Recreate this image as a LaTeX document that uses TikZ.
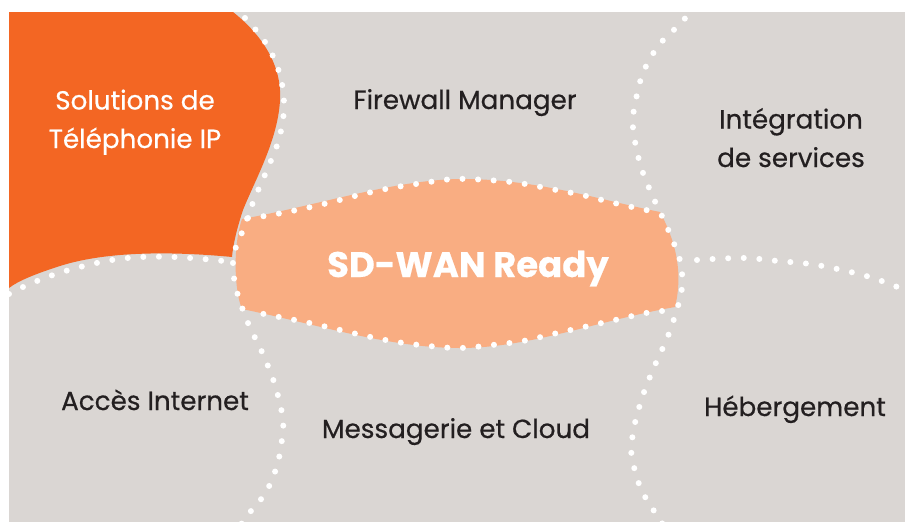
\documentclass[tikz,border=0pt]{standalone}
\usepackage{fontspec}
\setmainfont{Poppins}[FakeBold=0.5]
\definecolor{bggrey}{RGB}{218,214,211}
\definecolor{deeporange}{RGB}{243,102,35}
\definecolor{lightorange}{RGB}{249,173,130}
\definecolor{textdark}{RGB}{35,31,32}
\begin{document}
\begin{tikzpicture}[x=1pt,y=-1pt,
  dotline/.style={white, line width=6pt, line cap=round, dash pattern=on 0pt off 15.6pt},
  lbl/.style={text=textdark, font=\fontsize{26.2}{38.5}\selectfont, align=center, anchor=base, inner sep=0pt},
  wlbl/.style={lbl, text=white}]
\useasboundingbox (0,0) rectangle (905,522);
\fill[white] (0,0) rectangle (905,522);
\fill[bggrey] (9,12) rectangle (905,522);
\begin{scope}
\clip (9,12) rectangle (905,522);
% orange region
\fill[deeporange] (9,12) -- (233,12)
  .. controls (262,35) and (282,65) .. (280,100)
  .. controls (278,140) and (255,180) .. (243,210)
  .. controls (237,228) and (233,245) .. (232,257)
  .. controls (180,252) and (110,250) .. (60,266)
  .. controls (35,274) and (18,281) .. (9,288) -- cycle;
% central blob
\fill[lightorange] (242,219)
  .. controls (320,205) and (400,178) .. (467,179)
  .. controls (540,180) and (600,200) .. (660,212)
  .. controls (674,238) and (684,270) .. (675,307)
  .. controls (600,320) and (530,348) .. (460,348)
  .. controls (390,348) and (320,325) .. (242,309)
  .. controls (234,290) and (233,245) .. (242,219) -- cycle;
% dotted separators
\draw[dotline] plot[smooth, tension=0.6] coordinates {(233,8) (247,20) (267,45) (280,75) (284,107) (279,139) (267,170) (254,200) (243,230) (235,250) (233,268) (237,292) (248,323) (262,352) (274,382) (282,413) (283,429) (278,462) (266,492) (246,517) (238,530)};
\draw[dotline] plot[smooth, tension=0.6] coordinates {(694,6) (682,22) (659,45) (643,73) (635,104) (633,120) (634,136) (641,167) (653,197) (667,227) (679,257) (682,273) (682,288) (678,306) (668,336) (655,365) (643,395) (634,427) (632,443) (632,458) (641,489) (658,517) (664,526)};
\draw[dotline] plot[smooth, tension=0.6] coordinates {(9,294) (23,287) (50,276) (80,267) (112,260) (142,257) (173,257) (203,259) (233,262)};
\draw[dotline] plot[smooth, tension=0.6] coordinates {(697,260) (713,259) (746,258) (778,261) (810,264) (842,270) (873,278) (905,290)};
\draw[dotline] plot[smooth, tension=0.6] coordinates {(248,218) (265,216) (297,210) (328,203) (359,195) (391,188) (423,183) (454,179) (487,180) (519,183) (551,189) (582,195) (614,203) (646,210) (661,213)};
\draw[dotline] plot[smooth, tension=0.6] coordinates {(662,311) (646,313) (615,320) (584,327) (553,334) (523,341) (492,345) (460,348) (429,346) (397,342) (366,336) (336,329) (305,322) (274,316) (259,313)};
\end{scope}
% labels
\node[wlbl] (tel) at (135,148) {Solutions de\\Téléphonie IP};
\node[lbl] (fw) at (465,109) {Firewall Manager};
\node[lbl] (integ) at (791,167) {Intégration\\de services};
\node[wlbl, font=\bfseries\fontsize{35.5}{40}\selectfont] (sdwan) at (468,277) {SD-WAN Ready};
\node[lbl] (acces) at (155,410) {Accès Internet};
\node[lbl] (msg) at (456,438) {Messagerie et Cloud};
\node[lbl] (heb) at (795,416) {Hébergement};
\end{tikzpicture}
\end{document}
